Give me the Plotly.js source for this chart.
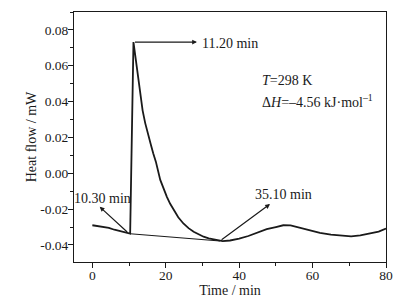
<!DOCTYPE html>
<html>
<head>
<meta charset="utf-8">
<script src="https://cdn.plot.ly/plotly-3.0.1.min.js"></script>
<style>html,body{margin:0;padding:0;background:#fff;}#chart{width:413px;height:299px;}</style>
</head>
<body>
<div id="chart"></div>
<script>
// Heat-flow thermogram
var timeMin = [0, 1.5, 3, 4.5, 6, 7.5, 9, 10.3, 11.2, 11.7, 12.4, 13.06, 13.7, 14.4, 15.2, 16.0, 16.6, 17.3, 18.5, 19.4, 20.3, 21.2, 22.1, 23.4, 24.8, 26.2, 27.6, 29.0, 30.3, 31.7, 33.0, 34.5, 35.5, 37.5, 40, 42.5, 45, 47.5, 50, 52, 54, 56.5, 59, 62, 65, 68, 70.5, 73, 75.5, 78, 80];
var heatFlow = [-0.0290, -0.0295, -0.0298, -0.0305, -0.0315, -0.0322, -0.0330, -0.0337, 0.0732, 0.0652, 0.0535, 0.0428, 0.0350, 0.0280, 0.0210, 0.0155, 0.0110, 0.0065, -0.0037, -0.0087, -0.0131, -0.0170, -0.0200, -0.0245, -0.0280, -0.0306, -0.0326, -0.0342, -0.0354, -0.0363, -0.0369, -0.0376, -0.0378, -0.0375, -0.0365, -0.0350, -0.0330, -0.0312, -0.0300, -0.0290, -0.0291, -0.0305, -0.0318, -0.0333, -0.0342, -0.0348, -0.0352, -0.0346, -0.0337, -0.0325, -0.0308];

// Baseline joining onset and end of the event
var baseTime = [10.3, 34.8];
var baseHeat = [-0.0337, -0.0378];

// Arrow annotations: [tailX, tailY, headX, headY]
var arrowOnset = [9.9, -0.0335, 2.0, -0.0187];
var arrowPeak = [11.2, 0.0732, 28.5, 0.0732];
var arrowEnd = [34.8, -0.0377, 48.4, -0.0172];

var labelOnset = '10.30 min';
var labelPeak = '11.20 min';
var labelEnd = '35.10 min';
var labelT = '<i>T</i>=298 K';
var labelH = 'Δ<i>H</i>=–4.56 kJ·mol<sup>–1</sup>';

var xTickVals = [0, 20, 40, 60, 80];
var yTickVals = [-0.04, -0.02, 0.00, 0.02, 0.04, 0.06, 0.08];
var yTickText = ['-0.04', '-0.02', '0.00', '0.02', '0.04', '0.06', '0.08'];

var font = 'Liberation Serif, Times New Roman, serif';
var ink = '#1a1a1a';

function arrow(a) {
  return {x: a[2], y: a[3], ax: a[0], ay: a[1], xref: 'x', yref: 'y', axref: 'x', ayref: 'y',
    text: '', showarrow: true, arrowhead: 2, arrowsize: 0.8, arrowwidth: 1.2, arrowcolor: ink, standoff: 0, startstandoff: 0};
}
function label(t, px, py) {
  return {x: px, y: py, xref: 'paper', yref: 'paper', xanchor: 'left', yanchor: 'middle', text: t,
    showarrow: false, font: {family: font, size: 14, color: ink}};
}

var traces = [
  {x: timeMin, y: heatFlow, mode: 'lines', line: {color: ink, width: 1.8}, hoverinfo: 'none'},
  {x: baseTime, y: baseHeat, mode: 'lines', line: {color: ink, width: 1.1}, hoverinfo: 'none'}
];

var axisCommon = {showgrid: false, zeroline: false, showline: true, mirror: true, linecolor: ink, linewidth: 1,
  ticks: 'outside', ticklen: 5, tickcolor: ink, tickwidth: 1, tickfont: {family: font, size: 13.5, color: ink}};

var layout = {
  width: 413, height: 299,
  margin: {l: 74, r: 27, t: 12, b: 37},
  paper_bgcolor: '#fff', plot_bgcolor: '#fff',
  showlegend: false,
  xaxis: Object.assign({}, axisCommon, {range: [-5, 80], tickmode: 'array', tickvals: xTickVals,
    ticklabelstandoff: -4,
    minor: {dtick: 10, tick0: 0, ticks: 'outside', ticklen: 3, tickcolor: ink},
    title: {text: 'Time / min', font: {family: font, size: 14, color: ink}, standoff: 0}}),
  yaxis: Object.assign({}, axisCommon, {range: [-0.0495, 0.09], tickmode: 'array', tickvals: yTickVals, ticktext: yTickText,
    ticklabelstandoff: -3,
    minor: {dtick: 0.01, tick0: 0, ticks: 'outside', ticklen: 3, tickcolor: ink},
    title: {text: 'Heat flow / mW', font: {family: font, size: 14, color: ink}, standoff: 0}}),
  annotations: [
    arrow(arrowOnset), arrow(arrowPeak), arrow(arrowEnd),
    label(labelOnset, -0.005, 0.255),
    label(labelPeak, 0.404, 0.876),
    label(labelEnd, 0.573, 0.271),
    label(labelT, 0.596, 0.728),
    label(labelH, 0.596, 0.644)
  ]
};

Plotly.newPlot('chart', traces, layout, {staticPlot: true, displayModeBar: false});
</script>
</body>
</html>
